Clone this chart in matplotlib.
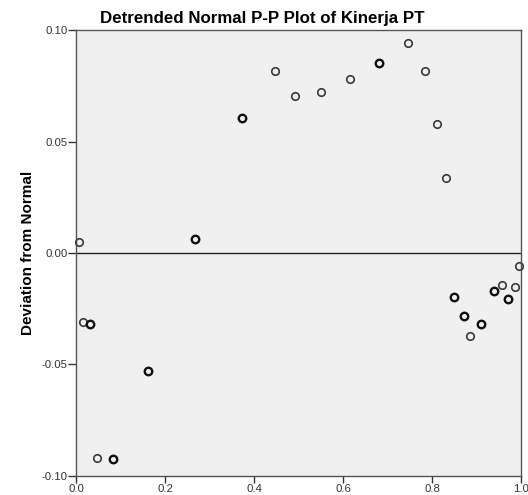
import matplotlib.pyplot as plt

plt.rcParams['font.family'] = ['Liberation Sans', 'DejaVu Sans']

observed = [0.007, 0.016, 0.032, 0.048, 0.082, 0.162, 0.267, 0.372, 0.446, 0.491,
            0.551, 0.616, 0.681, 0.745, 0.785, 0.810, 0.831, 0.850, 0.871, 0.886,
            0.910, 0.940, 0.956, 0.971, 0.986, 0.995]
deviation = [0.0050, -0.0310, -0.0320, -0.0920, -0.0924, -0.0530, 0.0064, 0.0607,
             0.0819, 0.0704, 0.0722, 0.0783, 0.0853, 0.0943, 0.0815, 0.0577,
             0.0336, -0.0196, -0.0284, -0.0373, -0.0318, -0.0173, -0.0143,
             -0.0205, -0.0151, -0.0060]
# points drawn darker in the reference (tied cases overplotted)
ties = [1, 1, 2, 1, 2, 2, 2, 2, 1, 1, 1, 1, 2, 1, 1, 1, 1, 2, 2, 1, 2, 2, 1, 2, 1, 1]

fig = plt.figure(figsize=(5.28, 4.95), dpi=100)
ax = fig.add_axes([0.144, 0.039, 0.843, 0.900])
ax.set_facecolor('#f0f0f0')

for x, y, t in zip(observed, deviation, ties):
    ax.plot(x, y, 'o', ms=5.4, mfc='none', mec='#111111' if t > 1 else '#3a3a3a',
            mew=1.7 if t > 1 else 1.2, clip_on=False, zorder=3)

ax.axhline(0, color='#222222', lw=1.0, zorder=2)

ax.set_xlim(0, 1)
ax.set_ylim(-0.10, 0.10)
ax.set_xticks([0.0, 0.2, 0.4, 0.6, 0.8, 1.0])
ax.set_xticklabels(['0.0', '0.2', '0.4', '0.6', '0.8', '1.0'])
ax.set_yticks([-0.10, -0.05, 0.00, 0.05, 0.10])
ax.set_yticklabels(['-0.10', '-0.05', '0.00', '0.05', '0.10'])
ax.tick_params(labelsize=8.2, width=1, color='#333333', labelcolor='#333333')
ax.tick_params(axis='x', length=5, pad=1)
ax.tick_params(axis='y', length=6, pad=0)

for s in ax.spines.values():
    s.set_color('#555555')
    s.set_linewidth(1.0)

ax.set_ylabel('Deviation from Normal', fontsize=11, fontweight='bold', labelpad=5)
fig.text(0.497, 0.9535, 'Detrended Normal P-P Plot of Kinerja PT', fontsize=12.2,
         fontweight='bold', ha='center', va='baseline')

fig.savefig('out.png', dpi=100)
